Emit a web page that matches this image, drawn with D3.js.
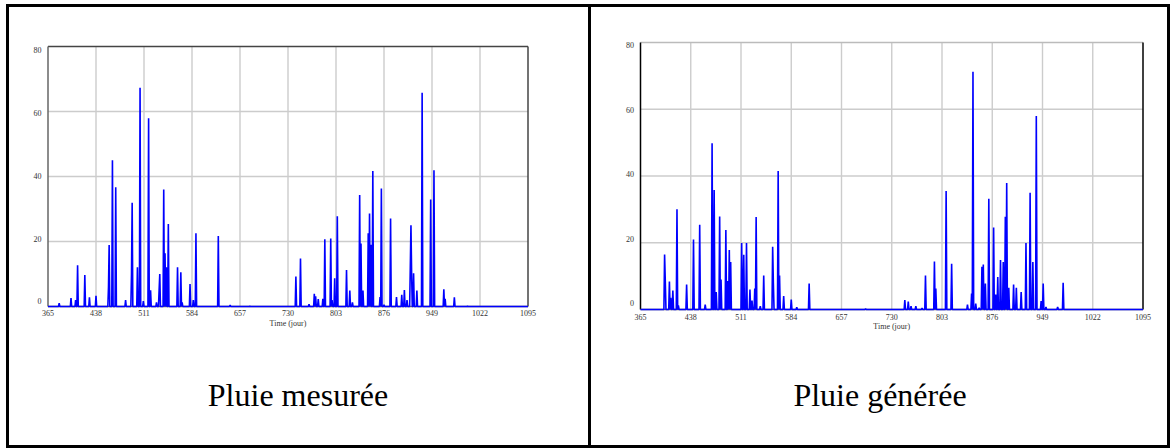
<!DOCTYPE html>
<html>
<head>
<meta charset="utf-8">
<script src="https://cdn.jsdelivr.net/npm/d3@7"></script>
<style>
  html, body { margin: 0; padding: 0; background: #fff; }
  svg { display: block; }
</style>
</head>
<body>
<svg id="chart" width="1171" height="448"></svg>
<script>
// ---------- DATA ----------
const xTickValues = [365, 438, 511, 584, 657, 730, 803, 876, 949, 1022, 1095];
const yTickValues = [0, 20, 40, 60, 80];
const xAxisTitle = "Time (jour)";
const captions = ["Pluie mesurée", "Pluie générée"];

// Rain events (day, mm); other days are 0
const measuredDays = [382, 400, 407, 410, 421, 428, 438, 457, 458, 463, 468, 483, 492, 493, 501, 505, 510, 518, 521, 530, 534, 535, 541, 543, 545, 548, 562, 567, 569, 581, 586, 590, 624, 642, 672,
  742, 749, 762, 770, 772, 776, 783, 786, 795, 797, 801, 805, 819, 824, 828, 839, 841, 844, 852, 854, 856, 859, 870, 872, 876, 886, 895, 903, 907, 911, 916, 917, 918, 921, 926, 934, 947, 952, 967, 969, 983, 1003];
const measuredValues = [1.0, 2.6, 2.0, 12.7, 9.7, 2.8, 3.3, 6.0, 18.9, 45.0, 36.7, 2.0, 10.0, 31.9, 12.1, 67.3, 1.7, 57.9, 5.0, 1.3, 5.0, 10.0, 36.0, 16.4, 12.1, 25.4, 12.1, 10.5, 1.3, 6.9, 2.0, 22.5, 21.7, 0.4, 0.1,
  9.2, 14.8, 0.7, 3.9, 3.1, 2.3, 2.4, 20.7, 20.9, 2.0, 8.7, 27.8, 11.2, 4.9, 1.3, 34.3, 19.4, 4.9, 22.5, 28.6, 19.0, 41.7, 2.9, 36.3, 0.5, 27.1, 2.9, 3.6, 5.1, 2.0, 12.0, 25.0, 10.0, 10.2, 4.9, 65.8, 32.9, 41.9, 5.3, 2.4, 2.8, 0.1];

const generatedDays = [400, 401, 407, 409, 412, 418, 420, 432, 442, 451, 459, 469, 472, 475, 480, 482, 489, 492, 494, 496, 512, 515, 519, 524, 527, 531, 533, 539, 544, 557, 558, 565, 567, 573, 584, 592, 610, 692,
  749, 754, 758, 765, 774, 779, 792, 794, 809, 817, 840, 846, 848, 852, 857, 861, 863, 866, 871, 878, 881, 884, 888, 892, 895, 897, 900, 907, 911, 918, 925, 931, 935, 940, 947, 950, 954, 971, 979];
const generatedValues = [16.5, 8.5, 8.4, 3.5, 5.7, 30.0, 1.2, 7.5, 21.0, 25.4, 1.5, 49.8, 35.8, 5.2, 27.9, 9.0, 23.8, 8.5, 17.8, 14.2, 19.9, 16.4, 19.9, 6.0, 2.7, 6.3, 27.7, 1.0, 10.2, 18.8, 8.0, 41.5, 10.2, 4.0, 3.0, 0.7, 7.8, 0.2,
  2.8, 2.4, 1.0, 1.0, 0.4, 10.2, 14.4, 6.3, 35.5, 13.7, 1.5, 4.8, 71.2, 1.8, 0.5, 12.8, 13.5, 7.8, 33.2, 24.6, 4.5, 9.7, 14.8, 14.2, 27.8, 37.9, 6.5, 7.5, 6.5, 5.2, 19.9, 35.0, 14.2, 58.0, 2.5, 7.8, 0.8, 0.8, 8.0];

// ---------- BUILD DAILY SERIES ----------
function dailySeries(days, values) {
  const m = new Map(days.map((d, i) => [d, values[i]]));
  const out = [];
  for (let d = 365; d <= 1095; d++) out.push({ day: d, v: m.has(d) ? m.get(d) : 0 });
  return out;
}

const svg = d3.select("#chart");
const FONT = "'Liberation Serif', 'Times New Roman', serif";

// ---------- TABLE FRAME ----------
svg.append("rect").attr("x", 7.5).attr("y", 5.5).attr("width", 1161).attr("height", 441)
  .attr("fill", "none").attr("stroke", "#000").attr("stroke-width", 3);
svg.append("line").attr("x1", 589.5).attr("x2", 589.5).attr("y1", 5.5).attr("y2", 446.5)
  .attr("stroke", "#000").attr("stroke-width", 3);

// ---------- CHART ----------
function drawChart(cfg) {
  const x = d3.scaleLinear().domain([365, 1095]).range([cfg.left, cfg.right]);
  const y = d3.scaleLinear().domain([0, 80]).range([cfg.bottom, cfg.top]);
  const yLab = d3.scaleLinear().domain([0, 80]).range([cfg.labBottom, cfg.labTop]);
  const g = svg.append("g");

  // grid
  g.append("g").selectAll("line.v").data(xTickValues.slice(1, -1)).join("line")
    .attr("x1", d => x(d)).attr("x2", d => x(d)).attr("y1", cfg.top).attr("y2", cfg.bottom)
    .attr("stroke", "#cccccc").attr("stroke-width", 1.4);
  g.append("g").selectAll("line.h").data(yTickValues.slice(1, -1)).join("line")
    .attr("x1", cfg.left).attr("x2", cfg.right).attr("y1", d => y(d)).attr("y2", d => y(d))
    .attr("stroke", "#cccccc").attr("stroke-width", 1.4);

  // frame
  g.append("line").attr("x1", cfg.left).attr("x2", cfg.right).attr("y1", y(80)).attr("y2", y(80))
    .attr("stroke", cfg.topColor).attr("stroke-width", 1.5);
  g.append("line").attr("x1", cfg.right).attr("x2", cfg.right).attr("y1", y(80)).attr("y2", y(0))
    .attr("stroke", cfg.rightColor).attr("stroke-width", 1.5);
  g.append("line").attr("x1", cfg.left).attr("x2", cfg.left).attr("y1", y(80)).attr("y2", y(0))
    .attr("stroke", cfg.leftColor).attr("stroke-width", 1.5);
  g.append("line").attr("x1", cfg.left).attr("x2", cfg.right).attr("y1", y(0)).attr("y2", y(0))
    .attr("stroke", "#666").attr("stroke-width", 1.5);

  // data line
  const series = dailySeries(cfg.days, cfg.values);
  const line = d3.line().x(d => x(d.day)).y(d => y(d.v));
  g.append("path").datum(series).attr("d", line)
    .attr("fill", "none").attr("stroke", "#0000ff").attr("stroke-width", 1.6)
    .attr("stroke-linejoin", "bevel");

  // y labels
  g.append("g").selectAll("text").data(yTickValues).join("text")
    .attr("x", cfg.left - 6.5).attr("y", d => yLab(d)).attr("dy", "0.35em")
    .attr("text-anchor", "end").attr("font-family", FONT).attr("font-size", 8)
    .attr("fill", "#333").text(d => d);

  // x labels
  g.append("g").selectAll("text").data(xTickValues).join("text")
    .attr("x", d => x(d)).attr("y", cfg.xLabY).attr("dy", "0.35em")
    .attr("text-anchor", "middle").attr("font-family", FONT).attr("font-size", 8)
    .attr("fill", "#333").text(d => d);

  g.append("text").attr("x", (cfg.left + cfg.right) / 2).attr("y", cfg.titleY).attr("dy", "0.35em")
    .attr("text-anchor", "middle").attr("font-family", FONT).attr("font-size", 8)
    .attr("fill", "#333").text(xAxisTitle);

  svg.append("text").attr("x", cfg.capX).attr("y", 406)
    .attr("text-anchor", "middle").attr("font-family", FONT).attr("font-size", 32)
    .attr("fill", "#000").text(cfg.caption);
}

drawChart({
  left: 48, right: 528, top: 46.5, bottom: 306.5,
  labTop: 50.5, labBottom: 301.5, xLabY: 313, titleY: 323.3,
  topColor: "#444", rightColor: "#444", leftColor: "#666",
  days: measuredDays, values: measuredValues, caption: captions[0], capX: 298
});
drawChart({
  left: 640.5, right: 1143, top: 42.5, bottom: 309.5,
  labTop: 45.5, labBottom: 303.5, xLabY: 316.7, titleY: 326,
  topColor: "#bbb", rightColor: "#000", leftColor: "#000",
  days: generatedDays, values: generatedValues, caption: captions[1], capX: 880
});
</script>
</body>
</html>
